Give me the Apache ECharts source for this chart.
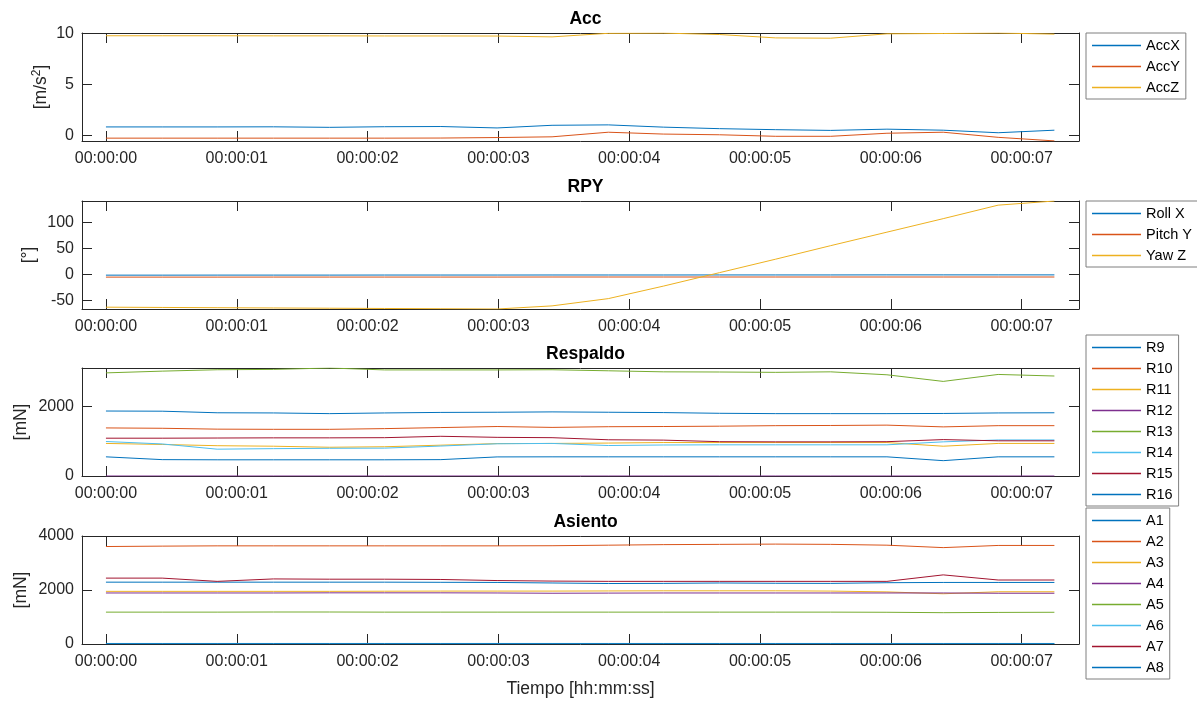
<!DOCTYPE html>
<html>
<head>
<meta charset="utf-8">
<title>Acc / RPY / Respaldo / Asiento</title>
<script src="https://cdn.jsdelivr.net/npm/echarts@6/dist/echarts.min.js"></script>
<style>
html, body { margin: 0; padding: 0; background: #fff; }
#grafico { width: 1197px; height: 701px; }
</style>
</head>
<body>
<div id="grafico"></div>
<script>
// tiempo de cada muestra [s]
var tiempos = [0, 0.43, 0.85, 1.28, 1.71, 2.13, 2.56, 2.99, 3.41, 3.84, 4.26, 4.69, 5.12, 5.54, 5.97, 6.40, 6.82, 7.25];
var ticksTiempo = [0, 1, 2, 3, 4, 5, 6, 7];

// Acc [m/s2]
var nombresAcc = ["AccX", "AccY", "AccZ"];
var accX = [0.82, 0.82, 0.82, 0.83, 0.78, 0.84, 0.86, 0.72, 0.98, 1.02, 0.80, 0.65, 0.55, 0.48, 0.60, 0.50, 0.25, 0.50];
var accY = [-0.28, -0.28, -0.28, -0.28, -0.28, -0.28, -0.27, -0.22, -0.15, 0.30, 0.12, 0.05, -0.10, -0.10, 0.20, 0.30, -0.20, -0.55];
var accZ = [9.76, 9.76, 9.76, 9.75, 9.75, 9.74, 9.74, 9.73, 9.65, 10.0, 10.02, 9.88, 9.55, 9.52, 9.95, 9.98, 10.03, 9.92];
var ticksAcc = [0, 5, 10];

// RPY [grados]
var nombresRpy = ["Roll X", "Pitch Y", "Yaw Z"];
var rollX = [-1.8, -1.8, -1.7, -1.7, -1.7, -1.6, -1.6, -1.6, -1.5, -1.5, -1.5, -1.4, -1.4, -1.4, -1.3, -1.3, -1.3, -1.3];
var pitchY = [-5.6, -5.6, -5.6, -5.5, -5.5, -5.5, -5.5, -5.5, -5.4, -5.4, -5.4, -5.4, -5.4, -5.4, -5.4, -5.4, -5.4, -5.4];
var yawZ = [-63.5, -64, -64.5, -65, -65.5, -66, -66.5, -67, -61, -47, -23, 3, 29, 55, 81, 107, 133, 141];
var ticksRpy = [-50, 0, 50, 100];

// Respaldo [mN]
var nombresResp = ["R9", "R10", "R11", "R12", "R13", "R14", "R15", "R16"];
var r9  = [1865, 1860, 1815, 1810, 1790, 1810, 1825, 1830, 1840, 1830, 1820, 1800, 1790, 1790, 1790, 1795, 1810, 1815];
var r10 = [1380, 1370, 1345, 1340, 1340, 1360, 1390, 1420, 1395, 1415, 1420, 1430, 1445, 1450, 1460, 1410, 1445, 1445];
var r11 = [935, 905, 870, 855, 825, 840, 885, 930, 935, 945, 960, 960, 960, 960, 960, 855, 935, 935];
var r12 = [0, 0, 0, 0, 0, 0, 0, 0, 0, 0, 0, 0, 0, 0, 0, 0, 0, 0];
var r13 = [2960, 3010, 3050, 3060, 3100, 3045, 3045, 3045, 3050, 3020, 2990, 2985, 2975, 2990, 2905, 2715, 2915, 2870];
var r14 = [990, 920, 770, 785, 795, 800, 860, 925, 935, 875, 890, 895, 895, 895, 895, 980, 1035, 1035];
var r15 = [1085, 1085, 1090, 1095, 1095, 1100, 1140, 1110, 1100, 1040, 1030, 985, 980, 980, 985, 1045, 1010, 1010];
var r16 = [550, 470, 465, 465, 465, 465, 470, 548, 550, 550, 550, 550, 550, 550, 550, 440, 550, 550];
var ticksResp = [0, 2000];

// Asiento [mN]
var nombresAsi = ["A1", "A2", "A3", "A4", "A5", "A6", "A7", "A8"];
var a1 = [2290, 2290, 2290, 2290, 2290, 2290, 2285, 2280, 2260, 2240, 2245, 2260, 2250, 2245, 2270, 2280, 2280, 2280];
var a2 = [3610, 3625, 3635, 3635, 3635, 3635, 3635, 3635, 3640, 3660, 3680, 3690, 3700, 3690, 3660, 3570, 3650, 3650];
var a3 = [1950, 1950, 1950, 1950, 1950, 1955, 1960, 1960, 1960, 1965, 1970, 1970, 1970, 1960, 1930, 1860, 1935, 1935];
var a4 = [1890, 1890, 1890, 1890, 1895, 1895, 1895, 1890, 1880, 1885, 1890, 1890, 1890, 1890, 1890, 1890, 1880, 1880];
var a5 = [1180, 1180, 1180, 1185, 1185, 1180, 1180, 1180, 1180, 1180, 1180, 1180, 1180, 1180, 1175, 1160, 1170, 1175];
var a6 = [20, 20, 20, 20, 20, 20, 20, 20, 20, 20, 20, 20, 20, 20, 20, 20, 20, 20];
var a7 = [2440, 2440, 2320, 2410, 2400, 2400, 2390, 2350, 2330, 2320, 2320, 2320, 2320, 2320, 2320, 2560, 2370, 2370];
var a8 = [10, 10, 10, 10, 10, 10, 10, 10, 10, 10, 10, 10, 10, 10, 10, 10, 10, 10];
var ticksAsi = [0, 2000, 4000];

var fuente = "'Liberation Sans', Arial, sans-serif";
var gris = "#262626";
var colores = ["#0072BD", "#D95319", "#EDB120", "#7E2F8E", "#77AC30", "#4DBEEE", "#A2142F"];

var paneles = [
  { titulo: "Acc", unidad: "[m/s{s|2}]", top: 33, min: -0.56, max: 10.03, ticks: ticksAcc,
    nombres: nombresAcc, datos: [accX, accY, accZ], gap: 30, legendTop: 33 },
  { titulo: "RPY", unidad: "[°]", top: 201, min: -67, max: 141, ticks: ticksRpy,
    nombres: nombresRpy, datos: [rollX, pitchY, yawZ], gap: 44, legendTop: 201 },
  { titulo: "Respaldo", unidad: "[mN]", top: 368, min: 0, max: 3100, ticks: ticksResp,
    nombres: nombresResp, datos: [r9, r10, r11, r12, r13, r14, r15, r16], gap: 52, legendTop: 335 },
  { titulo: "Asiento", unidad: "[mN]", top: 536, min: 0, max: 4000, ticks: ticksAsi,
    nombres: nombresAsi, datos: [a1, a2, a3, a4, a5, a6, a7, a8], gap: 52, legendTop: 508 }
];

function fmtTiempo(v) {
  return "00:00:0" + Math.round(v);
}

var grid = [], xAxis = [], yAxis = [], series = [], title = [], legend = [];

paneles.forEach(function (p, i) {
  grid.push({ left: 82, width: 997, top: p.top, height: 108 });

  title.push({
    text: p.titulo, left: 580.5, textAlign: "center", top: p.top - 28,
    textStyle: { fontFamily: fuente, fontSize: 17.5, fontWeight: "bold", color: "#000" }
  });

  var linea = { onZero: false, lineStyle: { color: gris, width: 1 } };
  var marca = { inside: true, length: 10, lineStyle: { color: gris, width: 1 } };

  // eje x abajo con etiquetas
  xAxis.push({
    gridIndex: i, type: "value", position: "bottom", min: -0.183, max: 7.438,
    axisLine: linea,
    axisTick: Object.assign({ customValues: ticksTiempo }, marca),
    axisLabel: { customValues: ticksTiempo, formatter: fmtTiempo, margin: 10,
      color: gris, fontSize: 16, fontFamily: fuente },
    splitLine: { show: false },
    name: i == 3 ? "Tiempo [hh:mm:ss]" : "",
    nameLocation: "middle", nameGap: 36, nameMoveOverlap: false,
    nameTextStyle: { color: gris, fontSize: 17.5, fontFamily: fuente }
  });
  // eje x arriba, solo caja y marcas
  xAxis.push({
    gridIndex: i, type: "value", position: "top", min: -0.183, max: 7.438,
    axisLine: linea,
    axisTick: Object.assign({ customValues: ticksTiempo }, marca),
    axisLabel: { show: false }, splitLine: { show: false }
  });

  yAxis.push({
    gridIndex: i, type: "value", position: "left", min: p.min, max: p.max,
    axisLine: linea,
    axisTick: Object.assign({ customValues: p.ticks }, marca),
    axisLabel: { customValues: p.ticks, margin: 8, color: gris, fontSize: 16, fontFamily: fuente,
      formatter: function (v) { return String(v); } },
    splitLine: { show: false },
    name: p.unidad, nameLocation: "middle", nameGap: p.gap, nameMoveOverlap: false,
    nameTextStyle: { color: gris, fontSize: 17.5, fontFamily: fuente,
      rich: { s: { fontSize: 12, fontFamily: fuente, color: gris, padding: [0, 0, 9, 0] } } }
  });
  yAxis.push({
    gridIndex: i, type: "value", position: "right", min: p.min, max: p.max,
    axisLine: linea,
    axisTick: Object.assign({ customValues: p.ticks }, marca),
    axisLabel: { show: false }, splitLine: { show: false }
  });

  p.datos.forEach(function (d, k) {
    var c = colores[k % 7];
    series.push({
      name: p.nombres[k], type: "line",
      xAxisIndex: 2 * i, yAxisIndex: 2 * i,
      data: tiempos.map(function (t, j) { return [t, d[j]]; }),
      symbol: "none", lineStyle: { width: 1, color: c }, itemStyle: { color: c }
    });
  });

  legend.push({
    data: p.nombres, orient: "vertical", left: 1086, top: p.legendTop,
    icon: "rect", itemWidth: 49, itemHeight: 1.5, itemGap: 6, padding: [5, 6, 4, 6],
    backgroundColor: "#fff", borderColor: "#7f7f7f", borderWidth: 1,
    textStyle: { color: "#000", fontSize: 14.5, fontFamily: fuente },
    selectedMode: false
  });
});

var myChart = echarts.init(document.getElementById("grafico"));
myChart.setOption({
  animation: false,
  title: title,
  grid: grid,
  xAxis: xAxis,
  yAxis: yAxis,
  legend: legend,
  series: series
});
</script>
</body>
</html>
